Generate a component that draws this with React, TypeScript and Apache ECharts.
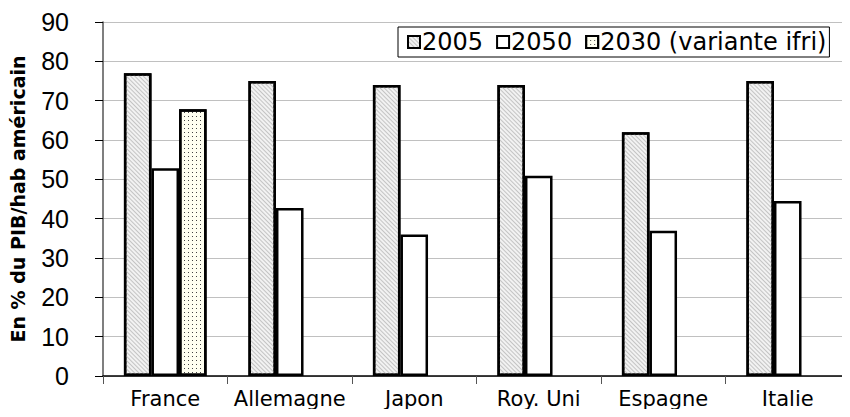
import React, { useEffect, useRef } from "react";
import * as echarts from "echarts";

const categories = ["France", "Allemagne", "Japon", "Roy. Uni", "Espagne", "Italie"];
const yTicks = [0, 10, 20, 30, 40, 50, 60, 70, 80, 90];
const values2005 = [77, 75, 74, 74, 62, 75];
const values2050 = [52.8, 42.7, 36, 50.9, 36.9, 44.5];
const values2030 = [67.8, null, null, null, null, null];
const seriesNames = ["2005", "2050", "2030 (variante ifri)"];
const yTitle = "En % du PIB/hab américain";

const FONT = "'DejaVu Sans', 'Liberation Sans', Arial, sans-serif";
const FONT_ARIAL = "'Liberation Sans', Arial, sans-serif";

export default function App() {
  const ref = useRef<HTMLDivElement>(null);
  useEffect(() => {
    if (!ref.current) return;
    const chart = echarts.init(ref.current, null, { renderer: "svg" });
    const border = { borderColor: "#000", borderWidth: 2.5 };
    chart.setOption({
      animation: false,
      backgroundColor: "#fff",
      textStyle: { fontFamily: FONT, color: "#000" },
      legend: {
        data: seriesNames,
        left: 398,
        top: 27,
        orient: "horizontal",
        icon: "rect",
        itemWidth: 12,
        itemHeight: 12,
        itemGap: 13,
        padding: [3, 3, 3, 9],
        borderColor: "#000",
        borderWidth: 1,
        backgroundColor: "#fff",
        textStyle: { fontFamily: FONT, fontSize: 24, color: "#000", padding: [0, 0, 0, -3] },
      },
      grid: { left: 102, top: 22, width: 760, bottom: 41, containLabel: false },
      xAxis: {
        type: "category",
        data: categories,
        axisLine: { lineStyle: { color: "#000", width: 1.5 } },
        axisTick: { show: true, length: 8, lineStyle: { color: "#555" } },
        axisLabel: { fontFamily: FONT, fontSize: 21, color: "#000", margin: 12, interval: 0 },
        splitLine: { show: false },
      },
      yAxis: {
        type: "value",
        min: yTicks[0],
        max: yTicks[yTicks.length - 1],
        interval: 10,
        name: yTitle,
        nameLocation: "middle",
        nameRotate: 90,
        nameGap: 76,
        nameTextStyle: { fontFamily: FONT, fontSize: 19, fontWeight: "bold", color: "#000" },
        axisLine: { show: true, lineStyle: { color: "#555", width: 1.5 } },
        axisTick: { show: true, length: 8, lineStyle: { color: "#000" } },
        axisLabel: { fontFamily: FONT_ARIAL, fontSize: 25, color: "#000", margin: 34 },
        splitLine: { show: true, lineStyle: { color: "#c0c0c0", width: 1 } },
      },
      series: [
        {
          name: seriesNames[0],
          type: "bar",
          data: values2005,
          barGap: "0%",
          barCategoryGap: "33.6%",
          itemStyle: {
            color: "#f2f2f2",
            ...border,
            decal: {
              symbol: "rect",
              symbolSize: 1,
              dashArrayX: [1, 0],
              dashArrayY: [1, 1.5],
              rotation: Math.PI / 4,
              color: "#c4c4c4",
            },
          },
        },
        {
          name: seriesNames[1],
          type: "bar",
          data: values2050,
          barGap: "0%",
          barCategoryGap: "33.6%",
          itemStyle: { color: "#fff", ...border },
        },
        {
          name: seriesNames[2],
          type: "bar",
          data: values2030,
          barGap: "0%",
          barCategoryGap: "33.6%",
          itemStyle: {
            color: "#fffff0",
            ...border,
            decal: {
              symbol: "rect",
              symbolSize: 1,
              dashArrayX: [1, 3],
              dashArrayY: [1, 3],
              rotation: 0,
              color: "#444",
            },
          },
        },
      ],
    });
    return () => chart.dispose();
  }, []);
  return <div ref={ref} style={{ width: 850, height: 417, margin: -8 }} />;
}
